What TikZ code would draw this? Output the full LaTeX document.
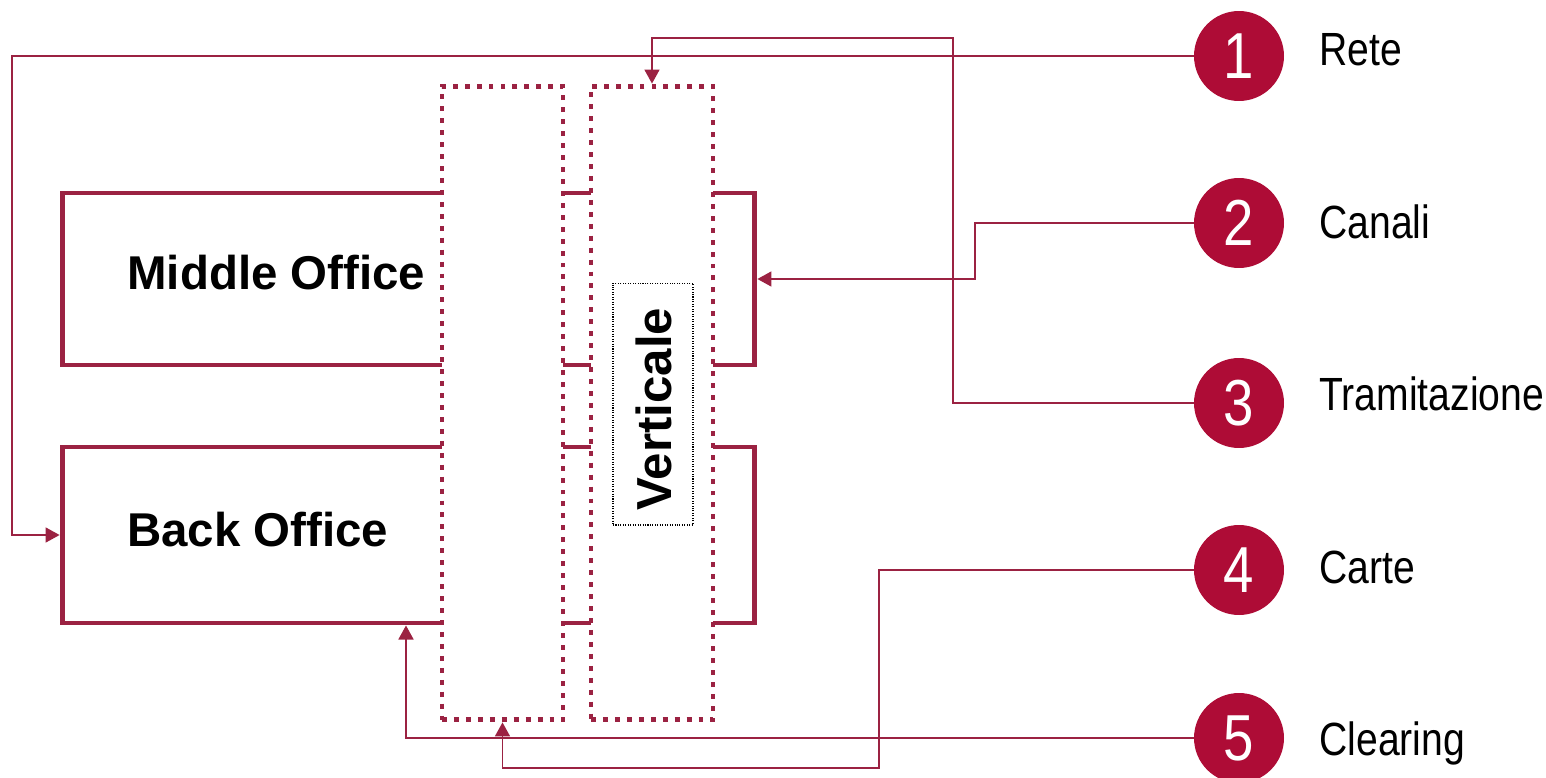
\documentclass[tikz,border=0pt]{standalone}
\usepackage{fontspec}
\setmainfont{Liberation Sans}
\newfontfamily\narrowfont[FakeStretch=0.84]{Liberation Sans}
\usetikzlibrary{arrows.meta,positioning}
\definecolor{office}{HTML}{9B2242}
\definecolor{badge}{HTML}{AE0C36}

\begin{document}
\begin{tikzpicture}[x=0.02cm,y=-0.02cm,
  officebox/.style={draw=office,line width=2.8pt,inner sep=0pt},
  column/.style={draw=office,fill=white,line width=2.8pt,dash pattern=on 2.8pt off 4pt,inner sep=0pt},
  link/.style={draw=office,line width=1.1pt,-{Triangle[length=8pt,width=8.5pt]}},
  badgenode/.style={circle,fill=badge,text=white,minimum size=1.8cm,inner sep=0pt,
    font=\narrowfont\fontsize{37}{37}\selectfont},
  lbl/.style={font=\narrowfont\fontsize{26.5}{30}\selectfont,anchor=base west,inner sep=0pt},
  boxlbl/.style={font=\bfseries\fontsize{27}{30}\selectfont,anchor=base west,inner sep=0pt}]
  \useasboundingbox (0,0) rectangle (1546,778);

  % Offices
  \node[officebox,minimum width=13.86cm,minimum height=3.44cm] (mo) at (408.5,279) {};
  \node[officebox,minimum width=13.86cm,minimum height=3.52cm] (bo) at (408.5,535) {};
  \node[boxlbl] (motxt) at (127,289) {Middle Office};
  \node[boxlbl] (botxt) at (127,546) {Back Office};

  % Columns
  \node[column,minimum width=2.42cm,minimum height=12.68cm] (col1) at (502.5,403) {};
  \node[column,minimum width=2.44cm,minimum height=12.68cm] (col2) at (652,403) {};
  \node[draw=black,line width=0.6pt,dash pattern=on 0.6pt off 0.8pt,
    minimum width=1.6cm,minimum height=4.84cm,inner sep=0pt] (vbox) at (653,404) {};
  \node[font=\bfseries\fontsize{28}{30}\selectfont,rotate=90,anchor=base,inner sep=0pt] (vtxt) at (671,409) {Verticale};

  % Legend
  \foreach \n/\y/\b/\txt in {1/56/65/Rete,2/223/238/Canali,3/403/410/Tramitazione,4/570/583/Carte,5/738/755/Clearing}{
    \node[badgenode] (c\n) at (1239,\y) {\n};
    \node[lbl] (l\n) at (1319,\b) {\txt};
  }

  % Connectors
  \coordinate (k1) at (12,56);
  \draw[link] (c1.west) -- (k1) |- (bo.west);
  \coordinate (k2) at (975,223);
  \draw[link] (c2.west) -- (k2) |- (mo.east);
  \coordinate (k3) at (953,38);
  \draw[link] (c3.west) -| (k3) -| (col2.north);
  \coordinate (k4) at (879,768);
  \draw[link] (c4.west) -| (k4) -| (col1.south);
  \coordinate (k5) at (406,738);
  \draw[link] (c5.west) -- (k5) -- (k5 |- bo.south);
\end{tikzpicture}
\end{document}
